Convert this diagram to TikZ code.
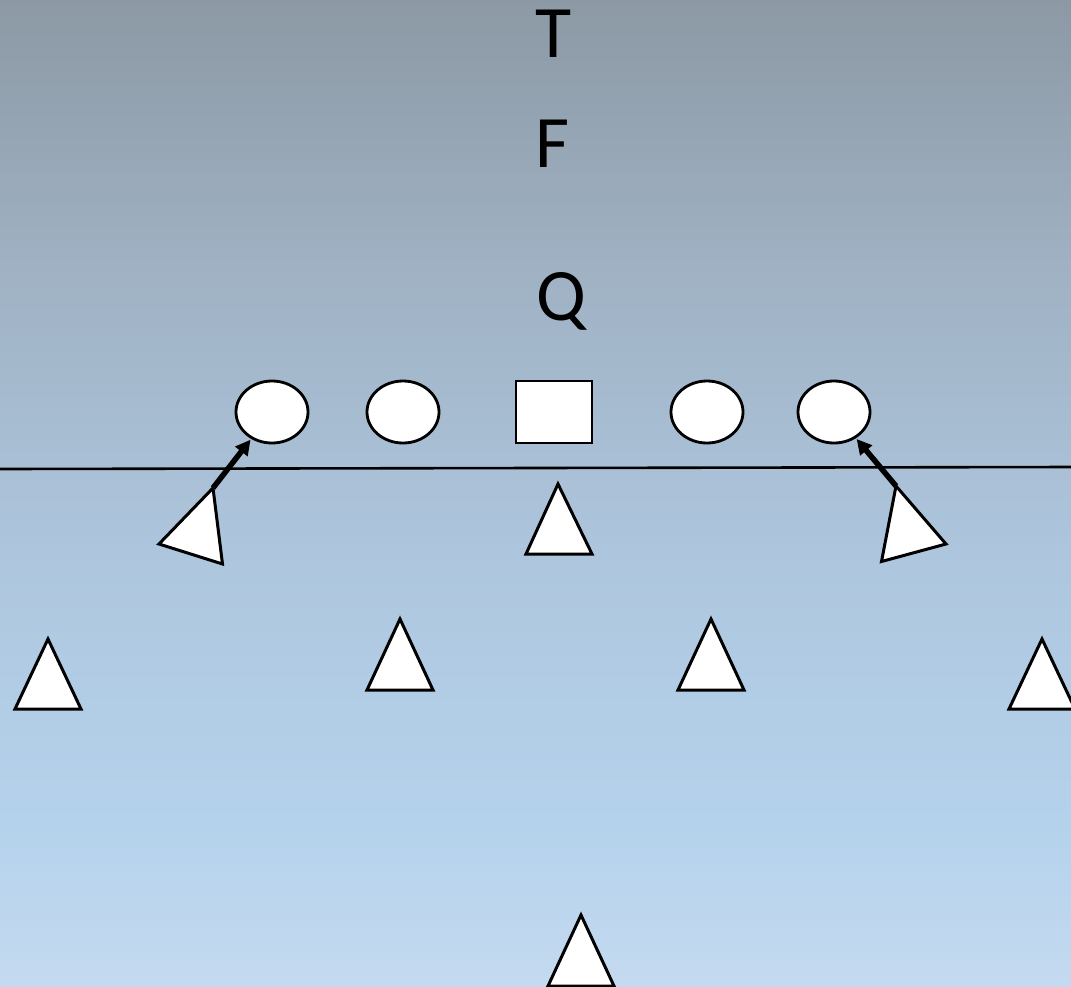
\documentclass[tikz,border=0pt]{standalone}
\usepackage{fontspec}
\setmainfont{Carlito}
\usetikzlibrary{shapes.geometric,arrows.meta}

\definecolor{fieldbot}{RGB}{196,218,240}
\definecolor{fieldlow}{RGB}{181,210,236}
\definecolor{fieldmid}{RGB}{174,199,223}
\definecolor{fieldup}{RGB}{160,178,196}
\definecolor{fieldtop}{RGB}{140,153,165}
% field background, bottom (light blue) to top (grey blue);
% the path covers the 25bp--75bp band of the shading
\pgfdeclareverticalshading{fieldshade}{100bp}{%
  color(0bp)=(fieldbot); color(25bp)=(fieldbot); color(33bp)=(fieldlow);
  color(46bp)=(fieldmid); color(61bp)=(fieldup); color(75bp)=(fieldtop); color(100bp)=(fieldtop)}

\tikzset{
  oval/.style={ellipse, draw, fill=white, line width=2.8pt, minimum width=72pt, minimum height=62pt, inner sep=0pt},
  centerbox/.style={rectangle, draw, fill=white, line width=2.6pt, minimum width=76pt, minimum height=62pt, inner sep=0pt},
  defender/.style={draw, fill=white, line width=3pt, line join=miter},
  letter/.style={font=\fontsize{74}{80}\selectfont, anchor=base, inner sep=0pt},
  rush/.style={line width=5.5pt, -{Triangle[length=15pt,width=15pt]}, shorten >=1pt},
  lineofscrimmage/.style={line width=2.6pt}
}

\begin{document}
\begin{tikzpicture}[x=1pt,y=-1pt]
  \useasboundingbox (0,0) rectangle (1071,986);
  \shade[shading=fieldshade] (0,0) rectangle (1071,986);

  % backfield letters
  \node[letter] (t) at (554,57) {T};
  \node[letter] (f) at (552,167) {F};
  \node[letter] (q) at (561,320) {Q};

  % offensive line
  \node[oval] (e1) at (272,412) {};
  \node[oval] (e2) at (403,412) {};
  \node[centerbox] (c) at (554,412) {};
  \node[oval] (e3) at (707,412) {};
  \node[oval] (e4) at (834,412) {};

  % line of scrimmage
  \coordinate (los1) at (0,469);
  \coordinate (los2) at (1071,467);
  \draw[lineofscrimmage] (los1) -- (los2);

  % defenders
  \draw[defender] (526,554) -- (558,484) -- (592,554) -- cycle;
  \draw[defender] (367,690) -- (400,619) -- (433,690) -- cycle;
  \draw[defender] (678,690) -- (711,619) -- (744,690) -- cycle;
  \draw[defender] (15,709) -- (48,639) -- (81,709) -- cycle;
  \draw[defender] (1009,709) -- (1042,639) -- (1075,709) -- cycle;
  \draw[defender] (548,986) -- (581,915) -- (614,986) -- cycle;

  % edge rushers
  \coordinate (lr) at (213,488);
  \coordinate (rr) at (896,486);
  \draw[defender] (lr) -- (159,544) -- (222.5,564) -- cycle;
  \draw[defender] (rr) -- (946,544) -- (881.5,561.5) -- cycle;

  % rush arrows
  \draw[rush] (lr) -- (e1);
  \draw[rush] (rr) -- (e4);
\end{tikzpicture}
\end{document}
